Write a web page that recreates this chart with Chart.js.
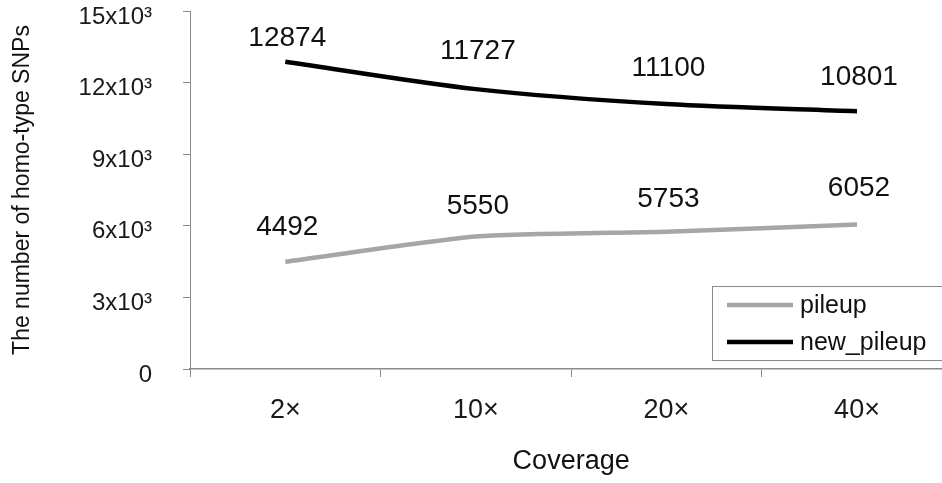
<!DOCTYPE html>
<html>
<head>
<meta charset="utf-8">
<script src="https://cdn.jsdelivr.net/npm/chart.js@4/dist/chart.umd.min.js"></script>
<style>
  html, body { margin: 0; padding: 0; background: #ffffff; overflow: hidden; }
  #wrap { position: absolute; left: 0; top: 0; width: 960px; height: 483px; }
</style>
</head>
<body>
<div id="wrap"><canvas id="chart"></canvas></div>
<script>
// Coverage levels on the x axis
const coverage = ['2\u00d7', '10\u00d7', '20\u00d7', '40\u00d7'];
// Homo-type SNP counts per caller
const pileup = [4492, 5550, 5753, 6052];
const newPileup = [12874, 11727, 11100, 10801];
// Y axis tick values
const yTicks = [0, 3000, 6000, 9000, 12000, 15000];

const FONT = "'Liberation Sans', Arial, sans-serif";
const AXIS_GREY = '#8a8a8a';

// Value labels above each point
const valueLabels = {
  id: 'valueLabels',
  afterDatasetsDraw(chart, args, opts) {
    const ctx = chart.ctx;
    ctx.save();
    ctx.font = opts.font;
    ctx.fillStyle = opts.color;
    ctx.textAlign = 'center';
    ctx.textBaseline = 'middle';
    chart.data.datasets.forEach((ds, di) => {
      const meta = chart.getDatasetMeta(di);
      const lifts = opts.lift[di];
      meta.data.forEach((pt, i) => {
        ctx.fillText(String(ds.data[i]), pt.x + 2, pt.y - lifts[i]);
      });
    });
    ctx.restore();
  }
};

// Boxed legend in the lower right of the plot
const boxLegend = {
  id: 'boxLegend',
  afterDraw(chart, args, opts) {
    const ctx = chart.ctx;
    const x0 = opts.left, y0 = opts.top;
    ctx.save();
    ctx.fillStyle = '#ffffff';
    ctx.fillRect(x0, y0, opts.width, opts.height);
    ctx.strokeStyle = AXIS_GREY;
    ctx.lineWidth = 1;
    ctx.strokeRect(x0 + 0.5, y0 + 0.5, opts.width, opts.height);
    ctx.font = opts.font;
    ctx.textAlign = 'left';
    ctx.textBaseline = 'middle';
    chart.data.datasets.forEach((ds, i) => {
      const y = y0 + opts.firstRow + i * opts.rowGap;
      ctx.strokeStyle = ds.borderColor;
      ctx.lineWidth = ds.borderWidth;
      ctx.beginPath();
      ctx.moveTo(x0 + 15, y);
      ctx.lineTo(x0 + 81, y);
      ctx.stroke();
      ctx.fillStyle = '#111111';
      ctx.fillText(ds.label, x0 + 88, y + 1);
    });
    ctx.restore();
  }
};

new Chart(document.getElementById('chart'), {
  type: 'line',
  data: {
    labels: coverage,
    datasets: [
      {
        label: 'pileup',
        data: pileup,
        borderColor: '#a6a6a6',
        borderWidth: 4.5,
        pointRadius: 0,
        tension: 0.2,
        borderCapStyle: 'butt'
      },
      {
        label: 'new_pileup',
        data: newPileup,
        borderColor: '#000000',
        borderWidth: 4.5,
        pointRadius: 0,
        tension: 0.3,
        borderCapStyle: 'butt'
      }
    ]
  },
  options: {
    responsive: true,
    maintainAspectRatio: false,
    animation: false,
    events: [],
    layout: { padding: { top: 11, right: 7.7, bottom: 0, left: 0 } },
    plugins: {
      legend: { display: false },
      tooltip: { enabled: false },
      valueLabels: {
        font: '28px ' + FONT,
        color: '#111111',
        lift: [[35, 30, 32, 36], [23, 38, 36, 34]]
      },
      boxLegend: {
        left: 712, top: 286, width: 250, height: 74,
        firstRow: 19, rowGap: 37,
        font: '25px ' + FONT
      }
    },
    scales: {
      x: {
        type: 'category',
        offset: true,
        grid: {
          offset: true,
          drawOnChartArea: false,
          drawTicks: true,
          tickLength: 8,
          color: AXIS_GREY,
          lineWidth: 1
        },
        border: { display: true, color: AXIS_GREY, width: 1.5 },
        ticks: {
          color: '#1a1a1a',
          font: { family: FONT, size: 27 },
          padding: 17,
          maxRotation: 0
        },
        title: {
          display: true,
          text: 'Coverage',
          color: '#111111',
          font: { family: FONT, size: 27 },
          padding: { top: 0, bottom: 5 }
        },
        afterFit(scale) {
          scale.height = 114;
          scale.paddingLeft = 0;
          scale.paddingRight = 0;
        }
      },
      y: {
        min: 0,
        max: 15000,
        afterBuildTicks(scale) {
          scale.ticks = yTicks.map(v => ({ value: v }));
        },
        grid: {
          drawOnChartArea: false,
          drawTicks: true,
          tickLength: 7,
          color: AXIS_GREY,
          lineWidth: 1
        },
        border: { display: true, color: AXIS_GREY, width: 1 },
        ticks: {
          color: '#1a1a1a',
          font: { family: FONT, size: 24 },
          padding: 31,
          labelOffset: 6,
          callback: v => (v === 0 ? '0' : (v / 1000) + 'x10\u00b3')
        },
        title: {
          display: true,
          text: 'The number of homo-type SNPs',
          color: '#111111',
          font: { family: FONT, size: 23 },
          padding: { top: 9, bottom: 0 }
        },
        afterFit(scale) {
          scale.width = 190;
          scale.paddingTop = 0;
          scale.paddingBottom = 0;
        }
      }
    }
  },
  plugins: [valueLabels, boxLegend]
});
</script>
</body>
</html>
